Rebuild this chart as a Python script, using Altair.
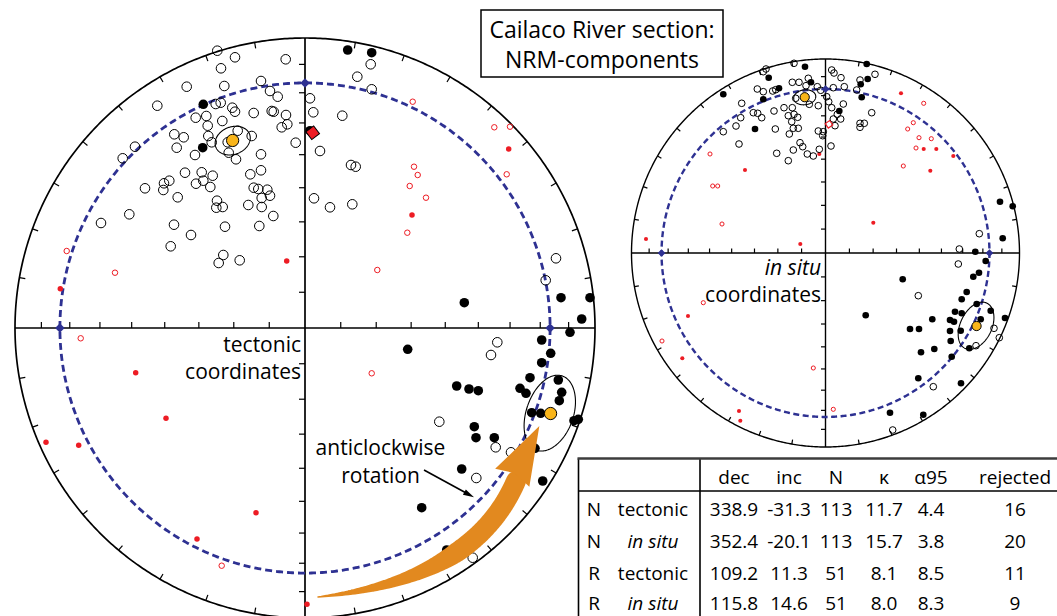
import numpy as np
import pandas as pd
import altair as alt

W, H = 1057, 616

# ---------------------------------------------------------------------------
# Site-mean statistics (Fisher means) for the two polarities and frames
# ---------------------------------------------------------------------------
POLARITY = ["N", "N", "R", "R"]
FRAME = ["tectonic", "in situ", "tectonic", "in situ"]
DEC = [338.9, 352.4, 109.2, 115.8]
INC = [-31.3, -20.1, 11.3, 14.6]
N_SITES = [113, 113, 51, 51]
KAPPA = [11.7, 15.7, 8.1, 8.0]
A95 = [4.4, 3.8, 8.5, 8.3]
REJECTED = [16, 20, 11, 9]

# expected inclination (dashed small circle) and reference declinations on it
EXPECTED_INC = 16.6
EXPECTED_DEC = [0, 90, 270]

# ---------------------------------------------------------------------------
# Projected NRM directions (equal-area, east / north).
# Tectonic net: primitive radius = 29 units; in situ net: 19.4 units.
# upper = negative inclination (open), lower = positive inclination (solid),
# rej_* = rejected directions (red)
# ---------------------------------------------------------------------------
TEC_UPPER = [
    (-8.77, 27.73), (-7.0, 27.07), (-1.93, 26.87), (-8.4, 25.97), (-11.83, 24.13),
    (-8.07, 24.2), (-4.4, 24.7), (-3.5, 23.7), (-2.73, 23.13), (-14.77, 22.23),
    (-8.93, 22.4), (-8.43, 22.53), (-7.27, 22.03), (-7.0, 21.63), (-5.13, 21.5),
    (-3.33, 21.7), (-3.13, 21.63), (-1.9, 21.3), (-1.77, 20.37), (-2.33, 20.07),
    (-10.93, 21.03), (-9.87, 21.2), (-9.73, 20.23), (-8.27, 20.7), (-13.07, 19.37),
    (-12.13, 19.07), (-9.67, 19.2), (-6.73, 19.73), (-9.33, 18.57), (-7.73, 18.57),
    (-7.63, 17.53), (-6.9, 16.87), (-12.83, 18.03), (-17.0, 18.13), (-18.23, 16.97),
    (-11.0, 17.3), (-4.4, 17.37), (-0.93, 18.53), (-12.0, 15.53), (-10.33, 15.57),
    (-9.23, 15.23), (-4.4, 15.77), (-5.47, 15.37), (-13.57, 14.73), (-14.1, 14.47),
    (-14.17, 13.8), (-10.9, 14.43), (-10.17, 14.73), (-9.47, 14.1), (-16.0, 13.97),
    (-12.73, 13.07), (-5.13, 14.03), (-4.67, 13.9), (-3.77, 13.83), (-3.5, 13.23),
    (-4.33, 13.0), (-8.8, 12.73), (-8.87, 12.03), (-8.23, 12.1), (-5.67, 12.3),
    (-4.33, 12.1), (-3.17, 11.2), (-17.57, 11.37), (-20.4, 10.5), (-13.1, 10.33),
    (-8.0, 10.13), (-4.57, 10.2), (-11.4, 9.3), (-13.43, 8.17), (-8.17, 7.3),
    (-8.63, 6.5), (-6.53, 6.77), (-5.33, 19.2),
    (6.57, 26.37), (5.23, 25.13), (6.67, 23.87), (0.5, 22.97), (0.83, 21.57),
    (3.73, 21.23), (1.5, 17.7), (4.6, 16.3), (5.07, 16.13), (0.9, 12.97),
    (2.5, 12.07), (4.73, 12.37), (25.1, 6.97), (24.07, 4.77),
    (19.23, -1.43), (18.6, -2.7), (13.43, -9.37), (19.07, -11.93), (20.6, -12.43),
    (17.13, -15.0), (16.77, -22.97),
]
TEC_LOWER = [
    (-10.17, 22.37), (-10.23, 18.03), (4.27, 27.8), (6.67, 27.53), (0.5, 19.73),
    (15.93, 2.53), (25.6, 3.03), (28.5, 3.03), (27.67, 0.9),
    (10.27, -2.13), (23.67, -1.2), (26.5, -0.43), (24.57, -2.53), (23.67, -3.47),
    (22.5, -4.97), (15.17, -5.8), (16.4, -6.1), (17.33, -6.27), (21.5, -6.03),
    (22.1, -6.53), (25.33, -5.2), (25.67, -6.43), (25.43, -7.27), (22.67, -8.47),
    (23.57, -8.53), (26.9, -9.27), (27.33, -9.13), (16.93, -9.87), (17.1, -10.97),
    (18.93, -10.97), (23.0, -12.03), (15.67, -14.1), (23.77, -15.3), (11.67, -17.97),
    (20.4, -17.3), (14.17, -22.2),
]
TEC_REJ_UPPER = [
    (10.77, 22.63), (18.93, 20.07), (20.5, 20.13), (10.9, 16.13), (11.27, 15.3),
    (10.47, 14.2), (12.1, 13.03), (10.23, 9.53), (20.17, 15.37), (7.23, 5.8),
    (-23.83, 7.7), (-19.0, 5.53), (-22.43, -1.03), (-8.33, -23.77), (6.67, -4.53),
]
TEC_REJ_LOWER = [
    (20.37, 17.9), (10.7, 11.3), (-24.47, 3.93), (-1.83, 6.7), (-16.93, -4.47),
    (-13.9, -9.03), (-25.9, -11.43), (-22.63, -11.73), (-4.9, -18.47), (-10.8, -21.1),
    (0.2, -27.63), (9.83, -24.8),
]
TEC_FLAGGED = [(0.77, 19.53)]

INS_UPPER = [
    (-6.22, 18.13), (-5.95, 18.4), (0.62, 18.3), (0.85, 18.0), (1.55, 17.53),
    (3.45, 17.3), (-6.82, 16.4), (-6.22, 16.13), (-5.28, 16.2), (-4.98, 16.33),
    (-3.32, 17.07), (-2.65, 17.07), (-1.72, 17.47), (-1.95, 16.73), (-0.82, 16.63),
    (-0.48, 16.27), (0.78, 16.53), (1.88, 16.63), (3.12, 16.3), (-2.98, 15.47),
    (-1.62, 14.87), (-0.72, 14.73), (0.12, 15.63), (0.32, 15.13), (0.62, 14.53),
    (1.78, 14.9), (-8.38, 14.97), (-7.22, 14.03), (-6.78, 13.97), (-6.38, 13.53),
    (-8.48, 13.53), (-8.95, 12.7), (-5.15, 14.2), (-4.15, 14.53), (-3.32, 14.53),
    (-3.15, 13.87), (-3.72, 13.73), (-3.38, 13.13), (-2.78, 13.57), (-3.22, 12.47),
    (-2.72, 12.47), (-5.02, 12.4), (-3.62, 11.9), (-0.72, 12.2), (-0.22, 12.13),
    (-0.28, 11.73), (0.78, 13.4), (1.18, 13.87), (1.52, 13.4), (0.95, 12.73),
    (3.45, 12.97), (3.88, 12.97), (3.45, 12.57), (-8.65, 10.9), (-2.55, 11.03),
    (-2.28, 10.63), (-3.22, 10.3), (-4.88, 9.97), (-1.82, 9.9), (-1.22, 9.7),
    (-0.62, 10.37), (0.55, 10.7), (-3.72, 9.23), (-3.15, 18.97), (-10.22, 12.13),
    (4.95, 17.87), (4.62, 14.03),
    (15.38, 1.93), (13.38, 0.4), (13.28, -1.1), (9.28, -4.27), (16.85, -7.53),
    (17.38, -8.47), (15.05, -9.27), (10.78, -13.37), (6.72, -17.7),
]
INS_LOWER = [
    (-5.68, 17.53), (-2.05, 18.63), (-1.45, 17.07), (-4.65, 16.47), (-6.22, 15.37),
    (-7.05, 12.4), (1.38, 14.2), (4.22, 17.4), (3.62, 15.57), (3.52, 16.87),
    (-10.22, 15.87), (4.12, 18.9),
    (17.45, 5.13), (18.72, 4.67), (17.72, 1.47), (14.98, 0.13), (16.02, -0.8),
    (14.78, -2.37), (15.35, -1.97), (7.72, -2.63), (14.12, -3.9), (13.62, -4.63),
    (15.12, -5.1), (12.95, -5.87), (13.62, -6.03), (16.52, -5.77), (4.02, -6.23),
    (10.68, -6.63), (12.45, -6.7), (12.85, -6.87), (15.52, -6.63), (17.95, -6.5),
    (8.45, -7.6), (9.35, -7.6), (12.45, -7.8), (13.52, -7.77), (12.52, -8.8),
    (9.55, -9.93), (10.88, -9.6), (14.38, -9.53), (12.62, -10.37), (9.28, -12.53),
    (13.55, -13.03), (6.45, -15.97), (9.78, -16.17),
]
INS_REJ_UPPER = [
    (-11.55, 9.9), (-11.28, 6.7), (-10.78, 6.7), (-10.35, 2.9), (9.82, 14.97),
    (8.78, 13.03), (8.22, 12.4), (9.35, 11.53), (10.58, 11.43), (9.05, 10.5),
    (7.78, 8.7), (-12.22, -4.97), (-16.35, -8.8), (-1.22, -11.5), (0.78, -15.63),
]
INS_REJ_LOWER = [
    (-0.62, 9.9), (-8.05, 8.3), (-17.95, 1.4), (-2.52, 0.9), (7.55, 15.97),
    (9.82, 10.4), (11.08, 10.4), (12.78, 9.7), (10.48, 8.23), (4.78, 3.03),
    (-13.75, -6.3), (-14.32, -10.53), (-8.65, -15.8), (-8.52, -16.77),
]
INS_FLAGGED = [(0.35, 12.87)]

# ---------------------------------------------------------------------------
# Layout of the two nets on the page
# ---------------------------------------------------------------------------
NET = {
    "tectonic": dict(cx=305.0, cy=328.0, r=290.0, unit=29.0, tick=6.0,
                     line=1.7, dash=[7, 4], dashw=2.8, sym=92, rej=30, mean=150,
                     diamond=90),
    "in situ": dict(cx=825.5, cy=253.0, r=194.0, unit=19.4, tick=4.5,
                    line=1.4, dash=[6, 3.5], dashw=2.4, sym=44, rej=17, mean=85,
                    diamond=60),
}

BLUE = "#2E3192"
RED = "#ED1C24"
YELLOW = "#F9B51A"
ORANGE = "#E2891F"
FONT = "Open Sans"

XS = alt.Scale(domain=[0, W], range=[0, W], nice=False, zero=False)
YS = alt.Scale(domain=[0, H], range=[0, H], nice=False, zero=False)


def eq_r(inc):
    return np.sqrt(2.0) * np.sin(np.radians(90.0 - np.abs(np.asarray(inc, float))) / 2.0)


def project(dec, inc):
    r = eq_r(inc)
    d = np.radians(np.asarray(dec, float))
    return r * np.sin(d), r * np.cos(d)


def to_page(net, east, north):
    g = NET[net]
    return g["cx"] + g["r"] * np.asarray(east, float), g["cy"] - g["r"] * np.asarray(north, float)


def cone(dec, inc, a95, n=180):
    d, i = np.radians(dec), np.radians(inc)
    m = np.array([np.cos(i) * np.cos(d), np.cos(i) * np.sin(d), np.sin(i)])
    u1 = np.array([-np.sin(i) * np.cos(d), -np.sin(i) * np.sin(d), np.cos(i)])
    u2 = np.cross(m, u1)
    t = np.linspace(0, 2 * np.pi, n + 1)
    a = np.radians(a95)
    v = np.cos(a) * m[:, None] + np.sin(a) * (np.cos(t) * u1[:, None] + np.sin(t) * u2[:, None])
    inc_c = np.degrees(np.arcsin(np.clip(v[2], -1, 1)))
    dec_c = np.degrees(np.arctan2(v[1], v[0]))
    return project(dec_c, inc_c)


def pos():
    return dict(x=alt.X("x:Q", scale=XS, axis=None), y=alt.Y("y:Q", scale=YS, axis=None))


def seg():
    return dict(x=alt.X("x:Q", scale=XS, axis=None), y=alt.Y("y:Q", scale=YS, axis=None),
                x2=alt.X2("x2:Q"), y2=alt.Y2("y2:Q"))


def pts_df(net, pairs):
    arr = np.array(pairs, float)
    x, y = to_page(net, arr[:, 0] / NET[net]["unit"], arr[:, 1] / NET[net]["unit"])
    return pd.DataFrame({"x": x, "y": y})


def ring_df(net, frac_e, frac_n, grp):
    x, y = to_page(net, frac_e, frac_n)
    return pd.DataFrame({"x": x, "y": y, "g": grp, "o": np.arange(len(x))})


layers = []
theta = np.linspace(0, 2 * np.pi, 721)

for net, g in NET.items():
    # primitive circle
    prim = ring_df(net, np.sin(theta), np.cos(theta), net)
    layers.append(alt.Chart(prim).mark_line(color="black", strokeWidth=g["line"]).encode(
        **pos(), order="o:Q"))

    # axes through the centre
    axes = pd.DataFrame({
        "x": [g["cx"] - g["r"], g["cx"]], "x2": [g["cx"] + g["r"], g["cx"]],
        "y": [g["cy"], g["cy"] - g["r"]], "y2": [g["cy"], g["cy"] + g["r"]],
    })
    layers.append(alt.Chart(axes).mark_rule(color="black", strokeWidth=g["line"]).encode(**seg()))

    # inclination ticks along the axes (every 10 degrees)
    L = g["tick"]
    rr = g["r"] * eq_r(np.arange(10, 90, 10))
    rows = []
    for r_ in rr:
        for s in (-1, 1):
            rows.append((g["cx"] + s * r_, g["cy"], g["cx"] + s * r_, g["cy"] - L))
            rows.append((g["cx"], g["cy"] + s * r_, g["cx"] - L, g["cy"] + s * r_))
    # declination ticks on the primitive
    for dd in range(0, 360, 10):
        if dd % 90 == 0:
            continue
        e, n = np.sin(np.radians(dd)), np.cos(np.radians(dd))
        x1, y1 = to_page(net, e, n)
        x2, y2 = to_page(net, e * (1 - L / g["r"]), n * (1 - L / g["r"]))
        rows.append((float(x1), float(y1), float(x2), float(y2)))
    ticks = pd.DataFrame(rows, columns=["x", "y", "x2", "y2"])
    layers.append(alt.Chart(ticks).mark_rule(color="black", strokeWidth=1.2).encode(**seg()))

    # expected-inclination small circle
    re = eq_r(EXPECTED_INC)
    dash = ring_df(net, re * np.sin(theta), re * np.cos(theta), net)
    layers.append(alt.Chart(dash).mark_line(color=BLUE, strokeWidth=g["dashw"],
                                            strokeDash=g["dash"]).encode(**pos(), order="o:Q"))

# symbol classes per net
SYMBOLS = {
    "tectonic": (TEC_UPPER, TEC_LOWER, TEC_REJ_UPPER, TEC_REJ_LOWER, TEC_FLAGGED),
    "in situ": (INS_UPPER, INS_LOWER, INS_REJ_UPPER, INS_REJ_LOWER, INS_FLAGGED),
}

for net, (up, lo, rup, rlo, flag) in SYMBOLS.items():
    g = NET[net]
    layers.append(alt.Chart(pts_df(net, rup)).mark_point(
        shape="circle", filled=False, color=RED, strokeWidth=1, size=g["rej"], opacity=1).encode(**pos()))
    layers.append(alt.Chart(pts_df(net, rlo)).mark_point(
        shape="circle", filled=True, color=RED, size=g["rej"], opacity=1).encode(**pos()))
    layers.append(alt.Chart(pts_df(net, up)).mark_point(
        shape="circle", filled=False, color="black", strokeWidth=1, size=g["sym"], opacity=1).encode(**pos()))
    layers.append(alt.Chart(pts_df(net, lo)).mark_point(
        shape="circle", filled=True, color="black", size=g["sym"], opacity=1).encode(**pos()))
    if net == "tectonic":
        layers.append(alt.Chart(pts_df(net, flag)).mark_point(
            shape="diamond", filled=True, fill=RED, stroke="black", strokeWidth=1,
            size=190, angle=8, opacity=1).encode(**pos()))
    else:
        layers.append(alt.Chart(pts_df(net, flag)).mark_point(
            shape="diamond", filled=False, color=RED, strokeWidth=1.2,
            size=60, angle=10, opacity=1).encode(**pos()))

    # reference directions on the dashed circle
    e, n = project(EXPECTED_DEC, [EXPECTED_INC] * len(EXPECTED_DEC))
    x, y = to_page(net, e, n)
    layers.append(alt.Chart(pd.DataFrame({"x": x, "y": y})).mark_point(
        shape="diamond", filled=True, color=BLUE, size=g["diamond"], opacity=1).encode(**pos()))

# site means with a95 confidence cones
for k in range(4):
    net = "tectonic" if FRAME[k] == "tectonic" else "in situ"
    g = NET[net]
    ce, cn = cone(DEC[k], INC[k], A95[k])
    ell = ring_df(net, ce, cn, f"m{k}")
    layers.append(alt.Chart(ell).mark_line(color="black", strokeWidth=1.1).encode(**pos(), order="o:Q"))
    me, mn = project([DEC[k]], [INC[k]])
    mx, my = to_page(net, me, mn)
    layers.append(alt.Chart(pd.DataFrame({"x": mx, "y": my})).mark_point(
        shape="circle", filled=True, fill=YELLOW, stroke="black", strokeWidth=1,
        size=g["mean"], opacity=1).encode(**pos()))

# ---------------------------------------------------------------------------
# "anticlockwise rotation" arrow (quadratic curve widening toward its head)
# ---------------------------------------------------------------------------
P0, P1, P2 = np.array([318.0, 597.0]), np.array([473.0, 580.5]), np.array([516.0, 481.0])
t = np.linspace(0, 1, 90)
bx = (1 - t) ** 2 * P0[0] + 2 * (1 - t) * t * P1[0] + t ** 2 * P2[0]
by = (1 - t) ** 2 * P0[1] + 2 * (1 - t) * t * P1[1] + t ** 2 * P2[1]
bw = np.minimum(20.0, 1.5 + 33.0 * t)
body = pd.DataFrame({"x": bx, "y": by, "w": bw, "o": np.arange(len(t))})
layers.append(alt.Chart(body).mark_trail(color=ORANGE).encode(
    **pos(), size=alt.Size("w:Q", scale=None, legend=None), order="o:Q"))
head = pd.DataFrame({"x": [525.8], "y": [451.9]})
layers.append(alt.Chart(head).mark_point(
    shape="M0,-1L0.66,1L0,0.82L-0.66,1Z", filled=True, fill=ORANGE, strokeWidth=0,
    size=3420, angle=27.6, opacity=1).encode(**pos()))

# pointer from the label to the dashed circle
ptr = pd.DataFrame({"x": [424.0], "y": [470.0], "x2": [468.0], "y2": [494.0]})
layers.append(alt.Chart(ptr).mark_rule(color="black", strokeWidth=1.6).encode(**seg()))
layers.append(alt.Chart(pd.DataFrame({"x": [469.2], "y": [494.7]})).mark_point(
    shape="M0,-1L0.55,1L-0.55,1Z", filled=True, color="black", size=121,
    angle=118.6, opacity=1).encode(**pos()))

# ---------------------------------------------------------------------------
# Labels on the nets
# ---------------------------------------------------------------------------
def text_layer(df, **kw):
    base = dict(font=FONT, color="black", baseline="alphabetic")
    base.update(kw)
    return alt.Chart(df).mark_text(**base).encode(**pos(), text="t:N")


layers.append(text_layer(pd.DataFrame({"x": [301, 301], "y": [352, 379],
                                       "t": ["tectonic", "coordinates"]}),
                         align="right", fontSize=21))
layers.append(text_layer(pd.DataFrame({"x": [380.5, 380.5], "y": [455, 483],
                                       "t": ["anticlockwise", "rotation"]}),
                         align="center", fontSize=21))
layers.append(text_layer(pd.DataFrame({"x": [821], "y": [275], "t": ["in situ"]}),
                         align="right", fontSize=21, fontStyle="italic"))
layers.append(text_layer(pd.DataFrame({"x": [821], "y": [302], "t": ["coordinates"]}),
                         align="right", fontSize=21))

# title box
layers.append(alt.Chart(pd.DataFrame({"x": [481], "x2": [723], "y": [10], "y2": [77]})).mark_rect(
    fill="white", stroke="black", strokeWidth=1.5).encode(**seg()))
layers.append(text_layer(pd.DataFrame({"x": [602, 602], "y": [37.5, 67.5],
                                       "t": ["Cailaco River section:", "NRM-components"]}),
                         align="center", fontSize=23))

# ---------------------------------------------------------------------------
# Statistics table
# ---------------------------------------------------------------------------
TX0, TX1, TY0, TY1 = 578.5, 1060, 458.5, 620
HEAD_Y, ROW_Y = 484, [516, 548, 580, 610]
COL_X = [734, 789, 836, 884, 931, 1015]
HEADERS = ["dec", "inc", "N", "κ", "α95", "rejected"]

layers.append(alt.Chart(pd.DataFrame({"x": [TX0], "x2": [TX1], "y": [TY0], "y2": [TY1]})).mark_rect(
    fill="white", strokeWidth=0).encode(**seg()))
rules = pd.DataFrame({
    "x": [TX0, TX0, 700], "x2": [TX1, TX0, 700],
    "y": [491, TY0, TY0], "y2": [491, TY1, TY1],
})
layers.append(alt.Chart(rules).mark_rule(color="black", strokeWidth=1.6).encode(**seg()))
layers.append(alt.Chart(pd.DataFrame({"x": [TX0 - 1], "x2": [TX1], "y": [TY0], "y2": [TY0]})).mark_rule(
    color="#3C3C3C", strokeWidth=2.6).encode(**seg()))

layers.append(text_layer(pd.DataFrame({"x": COL_X, "y": [HEAD_Y] * 6, "t": HEADERS}),
                         align="center", fontSize=19))

cells = []
for k in range(4):
    vals = [f"{DEC[k]:.1f}", f"{INC[k]:.1f}", f"{N_SITES[k]}", f"{KAPPA[k]:.1f}",
            f"{A95[k]:.1f}", f"{REJECTED[k]}"]
    for cx_, v in zip(COL_X, vals):
        cells.append((cx_, ROW_Y[k], v))
layers.append(text_layer(pd.DataFrame(cells, columns=["x", "y", "t"]), align="center", fontSize=19))
layers.append(text_layer(pd.DataFrame({"x": [594] * 4, "y": ROW_Y, "t": POLARITY}),
                         align="center", fontSize=19))
upright = [k for k in range(4) if FRAME[k] == "tectonic"]
italic = [k for k in range(4) if FRAME[k] != "tectonic"]
layers.append(text_layer(pd.DataFrame({"x": [653] * len(upright), "y": [ROW_Y[k] for k in upright],
                                       "t": [FRAME[k] for k in upright]}),
                         align="center", fontSize=19))
layers.append(text_layer(pd.DataFrame({"x": [653] * len(italic), "y": [ROW_Y[k] for k in italic],
                                       "t": [FRAME[k] for k in italic]}),
                         align="center", fontSize=19, fontStyle="italic"))

chart = alt.layer(*layers).properties(
    width=W, height=H, autosize=alt.AutoSizeParams(type="none"), padding=0, background="white"
).configure_view(strokeWidth=0)

chart.save("out.html", embed_options={"renderer": "svg", "actions": False})
